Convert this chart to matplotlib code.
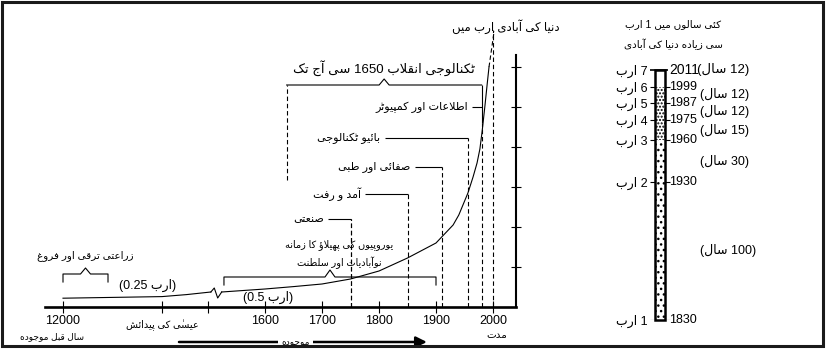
import matplotlib
matplotlib.use('Agg')
import matplotlib.pyplot as plt
import numpy as np
from matplotlib.patches import Rectangle

plt.rcParams['font.family'] = ['Liberation Sans', 'DejaVu Sans']
plt.rcParams['hatch.linewidth'] = 1.0

# ---------------- data ----------------
# population curve, billions
curve_early_year = [-12000, -6000, 0, 800, 1505]
curve_early_pop = [0.22, 0.24, 0.26, 0.31, 0.375]
zigzag_year = [1505, 1511, 1517, 1524]
zigzag_pop = [0.375, 0.475, 0.225, 0.375]
curve_year = [1524, 1600, 1650, 1700, 1750, 1800, 1850, 1900, 1930, 1940,
              1956, 1965, 1972, 1977, 1981, 1986, 1990, 1993]
curve_pop = [0.375, 0.45, 0.51, 0.575, 0.7, 0.9, 1.225, 1.6, 2.05, 2.3,
             2.85, 3.25, 3.6, 3.95, 4.4, 5.05, 5.6, 6.0]
curve_tail_year = [1993, 2002]
curve_tail_pop = [6.0, 6.9]

tick_years = [-12000, 0, 1500, 1600, 1700, 1800, 1900, 2000]
tick_labels = ['12000', '', '', '1600', '1700', '1800', '1900', '2000']

milestone_labels = ['اطلاعات اور کمپیوٹر', 'بائیو ٹکنالوجی', 'صفائی اور طبی',
                    'آمد و رفت', 'صنعتی']
milestone_years = [1980, 1956, 1910, 1850, 1750]
milestone_pop = [5.0, 4.225, 3.5, 2.825, 2.2]
milestone_label_years = [1963, 1810, 1863, 1775, 1711]

tech_start, tech_end, tech_level = 1638, 1980, 5.55
colonial_start, colonial_end, colonial_level = 1528, 1900, 0.75
agri_start, agri_end, agri_level = -12000, -6545, 0.825
line_top_2000 = 6.925

# right panel: each billion reached
billions = [1, 2, 3, 4, 5, 6, 7]
billion_years = [1830, 1930, 1960, 1975, 1987, 1999, 2011]


# ---------------- simple Urdu shaping (presentation forms + RTL order) ----------------
DUAL = {'ئ': 0xFE89, 'ب': 0xFE8F, 'ت': 0xFE95, 'ث': 0xFE99, 'ج': 0xFE9D,
        'ح': 0xFEA1, 'خ': 0xFEA5, 'س': 0xFEB1, 'ش': 0xFEB5, 'ص': 0xFEB9,
        'ض': 0xFEBD, 'ط': 0xFEC1, 'ظ': 0xFEC5, 'ع': 0xFEC9, 'غ': 0xFECD,
        'ف': 0xFED1, 'ق': 0xFED5, 'ل': 0xFEDD, 'م': 0xFEE1, 'ن': 0xFEE5,
        'ٹ': 0xFB66, 'پ': 0xFB56, 'چ': 0xFB7A, 'ک': 0xFB8E, 'گ': 0xFB92,
        'ہ': 0xFEE9, 'ھ': 0xFBAA, 'ی': 0xFBFC}
# bari ye has no glyph in any installed font: drawn with the dotless ye forms
RIGHT = {'آ': 0xFE81, 'ؤ': 0xFE85, 'ا': 0xFE8D, 'د': 0xFEA9, 'ذ': 0xFEAB,
         'ر': 0xFEAD, 'ز': 0xFEAF, 'و': 0xFEED, 'ڈ': 0xFB88, 'ڑ': 0xFB8C,
         'ژ': 0xFB8A, 'ے': 0xFBFC, 'ں': 0xFB9E}
LAMALEF = {'ا': 0xFEFB, 'آ': 0xFEF5}
MARKS = {'\u0670', '\u064B', '\u064E', '\u064F', '\u0650', '\u0651', '\u0652'}
MIRROR = {'(': ')', ')': '('}


def shape(text):
    base = []
    for c in text:
        if c in MARKS and base:
            base[-1][1] += c
        else:
            base.append([c, ''])
    out = []
    k = 0
    while k < len(base):
        c, marks = base[k]
        prev = base[k - 1][0] if k > 0 else None
        nxt = base[k + 1][0] if k + 1 < len(base) else None
        jp = prev in DUAL and (c in DUAL or c in RIGHT)
        if c == 'ل' and nxt in LAMALEF:
            out.append(chr(LAMALEF[nxt] + (1 if jp else 0)) + marks)
            k += 2
            continue
        if c in DUAL:
            jn = nxt in DUAL or nxt in RIGHT
            form = {(False, False): 0, (True, False): 1,
                    (False, True): 2, (True, True): 3}[(jp, jn)]
            out.append(chr(DUAL[c] + form) + marks)
        elif c in RIGHT:
            out.append(chr(RIGHT[c] + (1 if jp else 0)) + marks)
        else:
            out.append(c + marks)
        k += 1
    return out


def urdu(text):
    runs, cur = [], []
    for g in shape(text):
        if g[0] in '0123456789.':
            cur.append(g)
        else:
            if cur:
                runs.append(''.join(cur))
                cur = []
            runs.append(MIRROR.get(g, g))
    if cur:
        runs.append(''.join(cur))
    return ''.join(reversed(runs))


# ---------------- time axis scale (broken, piecewise linear) ----------------
anchor_years = [-15000, -12000, 0, 1500, 2100]
anchor_pos = [-24.75, 0, 99, 145, 487]


def fwd(year):
    return np.interp(year, anchor_years, anchor_pos)


def inv(pos):
    return np.interp(pos, anchor_pos, anchor_years)


fig = plt.figure(figsize=(8.29, 3.55), dpi=100)
fig.add_artist(Rectangle((2 / 829, 9 / 355), 821 / 829, 344 / 355, fill=False,
                         lw=2.2, color='#1a1a1a', transform=fig.transFigure))

ax = fig.add_axes([45 / 829, 48 / 355, 471 / 829, 280 / 355])
ax.set_xscale('function', functions=(fwd, inv))
ax.set_xlim(inv(-18), inv(453))
ax.set_ylim(0, 7)
for s in ['left', 'top']:
    ax.spines[s].set_visible(False)
ax.spines['bottom'].set_linewidth(1.9)
ax.spines['right'].set_linewidth(1.5)
ax.spines['right'].set_bounds(0, 6.3)
ax.set_xticks(tick_years)
ax.set_xticklabels(tick_labels, fontsize=9)
ax.set_yticks([1, 2, 3, 4, 5, 6])
ax.set_yticklabels([])
ax.yaxis.set_ticks_position('right')
ax.tick_params(axis='x', direction='inout', length=8, width=0.8, pad=1.5)
ax.tick_params(axis='y', direction='inout', length=7, width=0.8)

dash = (0, (4, 2.5))
lw = 0.8

# curve
ax.plot(curve_early_year, curve_early_pop, color='k', lw=lw)
ax.plot(zigzag_year, zigzag_pop, color='k', lw=lw)
ax.plot(curve_year, curve_pop, color='k', lw=lw)
ax.plot(curve_tail_year, curve_tail_pop, color='k', lw=lw, ls=dash)

# milestone leaders
ax.vlines(milestone_years[1:], 0, milestone_pop[1:], colors='k', lw=lw, linestyles=dash)
ax.vlines(2000, 0, line_top_2000, colors='k', lw=lw, linestyles=dash)
ax.hlines(milestone_pop, milestone_label_years, milestone_years, colors='k', lw=lw)
for lbl, yr, pop in zip(milestone_labels, milestone_label_years, milestone_pop):
    ax.annotate(urdu(lbl), (yr, pop), xytext=(-3, 0), textcoords='offset points',
                ha='right', va='center', fontsize=8)


def bracket(x0, x1, y, tip, leg):
    xm = (fwd(x0) + fwd(x1)) / 2
    xs = [x0, x0, inv(xm - 5), inv(xm), inv(xm + 5), x1, x1]
    ys = [y - leg, y, y, y + tip, y, y, y - leg]
    ax.plot(xs, ys, color='k', lw=lw, clip_on=False)
    return inv(xm)


# technology revolution bracket
xm = bracket(tech_start, tech_end, tech_level, 0.15, 0)
ax.vlines(tech_start, 3.175, tech_level, colors='k', lw=lw, linestyles=dash)
ax.vlines(tech_end, 0, 4.6, colors='k', lw=lw, linestyles=dash)
ax.vlines(tech_end, 4.6, tech_level, colors='k', lw=lw)
ax.text(xm, 5.975, urdu('ٹکنالوجی انقلاب 1650 سے آج تک'), ha='center', va='center',
        fontsize=9.5)

# colonial bracket
xm = bracket(colonial_start, colonial_end, colonial_level, 0.175, 0.2)
ax.vlines(1750, 0, milestone_pop[-1], colors='k', lw=lw, linestyles=dash)
ax.text(inv(fwd(xm) + 9), 1.55, urdu('یوروپیوں کے پھیلاؤ کا زمانہ'), ha='center',
        va='center', fontsize=7)
ax.text(inv(fwd(xm) + 9), 1.1, urdu('نوآبادیات اور سلطنت'), ha='center', va='center',
        fontsize=7)

# agriculture bracket
xm = bracket(agri_start, agri_end, agri_level, 0.15, 0.2)
ax.text(xm, 1.275, urdu('زراعتی ترقی اور فروغ'), ha='center', va='center', fontsize=7.5)

ax.text(-1700, 0.55, urdu('(ارب 0.25)'), ha='center', va='center', fontsize=9)
ax.text(1605, 0.25, urdu('(ارب 0.5)'), ha='center', va='center', fontsize=9)

# labels under the axis
ax.text(0, -0.45, urdu('عیسیٰ کی پیدائش'), ha='center', va='center', fontsize=7,
        clip_on=False)
ax.text(-13333, -0.73, urdu('سال قبل موجودہ'), ha='center', va='center', fontsize=6.5,
        clip_on=False)
ax.text(2007, -0.7, urdu('مدت'), ha='center', va='center', fontsize=7.5, clip_on=False)
ax.annotate('', xy=(1884, -0.875), xytext=(554, -0.875), annotation_clip=False,
            arrowprops=dict(arrowstyle='-|>', lw=1.8, color='k', mutation_scale=16,
                            shrinkA=0, shrinkB=0))
ax.text(1653, -0.875, urdu('موجودہ'), ha='center', va='center', fontsize=6.5,
        clip_on=False, bbox=dict(facecolor='white', edgecolor='none', pad=2.5))

ax.text(2023, 7.0, urdu('دنیا کی آبادی ارب میں'), ha='center', va='center',
        fontsize=8.5, clip_on=False)

# ---------------- right panel ----------------
ax2 = fig.add_axes([600 / 829, 35 / 355, 220 / 829, 250 / 355])
ax2.set_xlim(0, 1)
ax2.set_ylim(1830, 2011)
ax2.axis('off')

bx0, bw = 0.25, 0.045
ax2.add_patch(Rectangle((bx0, 1830), bw, 130, fill=False, hatch='...', edgecolor='k', lw=0))
ax2.add_patch(Rectangle((bx0, 1960), bw, 39, fill=False, hatch='.....', edgecolor='k', lw=0))
ax2.add_patch(Rectangle((bx0, 1830), bw, 181, fill=False, edgecolor='k', lw=1.8,
                        clip_on=False))
ax2.hlines(billion_years[:-1], bx0 - 0.023, bx0, colors='k', lw=0.8)
ax2.hlines(billion_years[:-1], bx0 + bw, bx0 + bw + 0.023, colors='k', lw=0.8)
ax2.hlines(billion_years[-1], bx0 - 0.023, bx0 + bw + 0.013, colors='k', lw=1.2,
           clip_on=False)

for b, yr in zip(billions, billion_years):
    ax2.text(bx0 - 0.032, yr - 1, urdu(f'{b} ارب'), ha='right', va='center', fontsize=9,
             clip_on=False)
    size = 10 if yr == billion_years[-1] else 9
    ax2.text(bx0 + bw + 0.02, yr, str(yr), ha='left', va='center', fontsize=size,
             clip_on=False)

gaps = np.diff(billion_years)
for k, g in enumerate(gaps):
    if k == len(gaps) - 1:
        ax2.text(0.441, billion_years[-1], urdu(f'({g} سال)'), ha='left', va='center',
                 fontsize=9.5, clip_on=False)
    else:
        mid = (billion_years[k] + billion_years[k + 1]) / 2
        ax2.text(0.4545, mid, urdu(f'({g} سال)'), ha='left', va='center', fontsize=9,
                 clip_on=False)

ax2.text(0.332, 1.184, urdu('کئی سالوں میں 1 ارب'), transform=ax2.transAxes,
         ha='center', va='center', fontsize=7.5)
ax2.text(0.332, 1.104, urdu('سے زیادہ دنیا کی آبادی'), transform=ax2.transAxes,
         ha='center', va='center', fontsize=7.5)

fig.savefig('out.png', dpi=100)
